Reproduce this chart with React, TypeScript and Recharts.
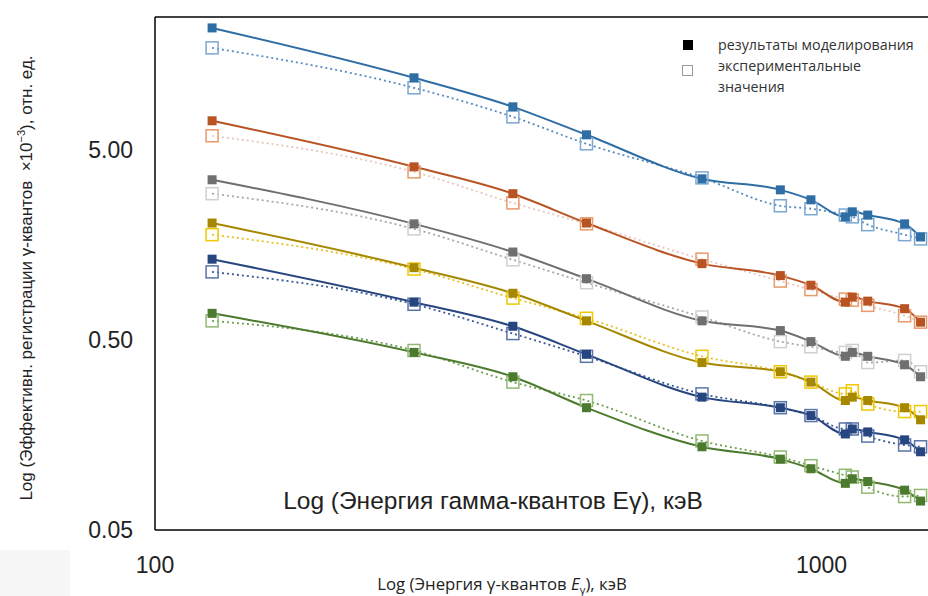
import React from "react";
import { LineChart, Line, XAxis, YAxis, ReferenceLine } from "recharts";

// energies, keV
const energies = [121.8, 244.7, 344.3, 444.0, 661.7, 867.4, 964.1, 1085.8, 1112.1, 1173.2, 1332.5, 1408.0];

// simulated (filled squares, solid line)
const simBlue = [21.9, 11.97, 8.42, 6.0, 3.52, 3.08, 2.73, 2.22, 2.36, 2.27, 2.04, 1.74];
const simOrange = [7.11, 4.07, 2.94, 2.06, 1.26, 1.09, 0.97, 0.79, 0.84, 0.8, 0.73, 0.62];
const simGray = [3.48, 2.04, 1.45, 1.05, 0.63, 0.56, 0.49, 0.41, 0.43, 0.41, 0.37, 0.32];
const simGold = [2.06, 1.2, 0.88, 0.63, 0.38, 0.34, 0.3, 0.24, 0.25, 0.24, 0.22, 0.19];
const simNavy = [1.33, 0.79, 0.59, 0.42, 0.25, 0.22, 0.2, 0.16, 0.17, 0.164, 0.149, 0.129];
const simGreen = [0.69, 0.43, 0.32, 0.22, 0.137, 0.118, 0.105, 0.088, 0.093, 0.09, 0.081, 0.071];

// experimental (open squares, dotted line)
const expBlue = [17.2, 10.6, 7.46, 5.38, 3.56, 2.54, 2.45, 2.27, 2.22, 2.02, 1.79, 1.7];
const expOrange = [5.93, 3.83, 2.63, 2.04, 1.33, 1.02, 0.92, 0.82, 0.81, 0.76, 0.67, 0.62];
const expGray = [2.94, 1.92, 1.32, 1.0, 0.66, 0.49, 0.46, 0.43, 0.44, 0.38, 0.39, 0.34];
const expGold = [1.79, 1.18, 0.83, 0.65, 0.41, 0.34, 0.3, 0.26, 0.27, 0.23, 0.21, 0.21];
const expNavy = [1.14, 0.77, 0.54, 0.41, 0.26, 0.22, 0.2, 0.17, 0.17, 0.156, 0.14, 0.137];
const expGreen = [0.63, 0.44, 0.3, 0.24, 0.147, 0.121, 0.109, 0.097, 0.095, 0.084, 0.075, 0.076];

const xTicks = [100, 1000];
const yTicks = [0.05, 0.5, 5];
const yTickLabels = ["0.05", "0.50", "5.00"];

const series = [
  { sim: simBlue, exp: expBlue, c: "#2F6EA5", m: "#7BA7D0", l: "#5A8BC0" },
  { sim: simOrange, exp: expOrange, c: "#B85423", m: "#E89A6A", l: "#E6C6BC" },
  { sim: simGray, exp: expGray, c: "#6F6F6F", m: "#D0D0D0", l: "#A8A8A8" },
  { sim: simGold, exp: expGold, c: "#A68800", m: "#F0C800", l: "#E8C020" },
  { sim: simNavy, exp: expNavy, c: "#27467F", m: "#5A74AA", l: "#3A5A95" },
  { sim: simGreen, exp: expGreen, c: "#4C7A2E", m: "#92B872", l: "#6E9E50" },
];

const data = energies.map((e, i) => {
  const row: any = { e };
  series.forEach((s, k) => {
    row["s" + k] = s.sim[i];
    row["x" + k] = s.exp[i];
  });
  return row;
});

const filledSq = (color: string) => (p: any) => (
  <rect key={p.key ?? `${p.index}`} x={p.cx - 4.5} y={p.cy - 4.5} width={9} height={9} fill={color} />
);
const openSq = (color: string) => (p: any) => (
  <rect key={p.key ?? `${p.index}`} x={p.cx - 6} y={p.cy - 6} width={12} height={12} fill="none" stroke={color} strokeWidth={1.5} />
);

const arial = "'Liberation Sans', Arial, sans-serif";
const calibri = "'Open Sans', 'Noto Sans', sans-serif";

export default function App() {
  return (
    <div style={{ position: "fixed", left: 0, top: 0, width: 928, height: 596, overflow: "hidden", background: "#fff" }}>
      <div style={{ position: "absolute", left: 0, top: 550, width: 70, height: 46, background: "#f7f7f7" }} />
      <LineChart width={960} height={596} data={data} margin={{ top: 17, right: 25, bottom: 0, left: 0 }}>
        <XAxis
          dataKey="e" type="number" scale="log" domain={[100, 1480]} allowDataOverflow
          ticks={xTicks} tickLine={false} tickMargin={21} height={66}
          axisLine={{ stroke: "#000", strokeWidth: 1.5 }}
          tick={{ fill: "#222", fontSize: 23, fontFamily: arial }}
        />
        <YAxis
          type="number" scale="log" domain={[0.05, 25]} allowDataOverflow
          ticks={yTicks} tickLine={false} tickMargin={16} width={155}
          tickFormatter={(v: number) => yTickLabels[yTicks.indexOf(v)] ?? String(v)}
          axisLine={{ stroke: "#000", strokeWidth: 1.5 }}
          tick={{ fill: "#222", fontSize: 23, fontFamily: arial }}
        />
        <ReferenceLine y={25} stroke="#000" strokeWidth={1.5} />
        {series.map((s, k) => (
          <Line key={"x" + k} dataKey={"x" + k} type="monotone" stroke={s.l} strokeWidth={1.8}
            strokeDasharray="2 3" dot={openSq(s.m)} activeDot={false} isAnimationActive={false} />
        ))}
        {series.map((s, k) => (
          <Line key={"s" + k} dataKey={"s" + k} type="monotone" stroke={s.c} strokeWidth={2}
            dot={filledSq(s.c)} activeDot={false} isAnimationActive={false} />
        ))}
      </LineChart>

      {/* legend */}
      <div style={{ position: "absolute", left: 683, top: 40, width: 10, height: 10, background: "#000" }} />
      <div style={{ position: "absolute", left: 682, top: 65, width: 11, height: 11, border: "1px solid #999", boxSizing: "border-box" }} />
      <div style={{ position: "absolute", left: 718, top: 34, fontFamily: calibri, fontSize: 14.3, lineHeight: "21px", color: "#333" }}>
        результаты моделирования<br />экспериментальные<br />значения
      </div>

      <div style={{ position: "absolute", left: 0, width: 986, top: 487, textAlign: "center", fontFamily: arial, fontSize: 24.5, color: "#222", whiteSpace: "nowrap" }}>
        Log (Энергия гамма-квантов Eγ), кэВ
      </div>

      <div style={{ position: "absolute", left: 0, width: 1004, top: 572, textAlign: "center", fontFamily: calibri, fontSize: 16.8, color: "#222", whiteSpace: "nowrap" }}>
        Log (Энергия γ-квантов <i>E</i><sub style={{ fontSize: 11 }}>γ</sub>), кэВ
      </div>

      <div style={{
        position: "absolute", left: 26, top: 278, transform: "translate(-50%, -50%) rotate(-90deg)",
        fontFamily: arial, fontSize: 17, color: "#222", whiteSpace: "nowrap"
      }}>
        Log (Эффективн. регистрации γ-квантов&nbsp; ×10<sup style={{ fontSize: 11 }}>−3</sup>), отн. ед.
      </div>
    </div>
  );
}
